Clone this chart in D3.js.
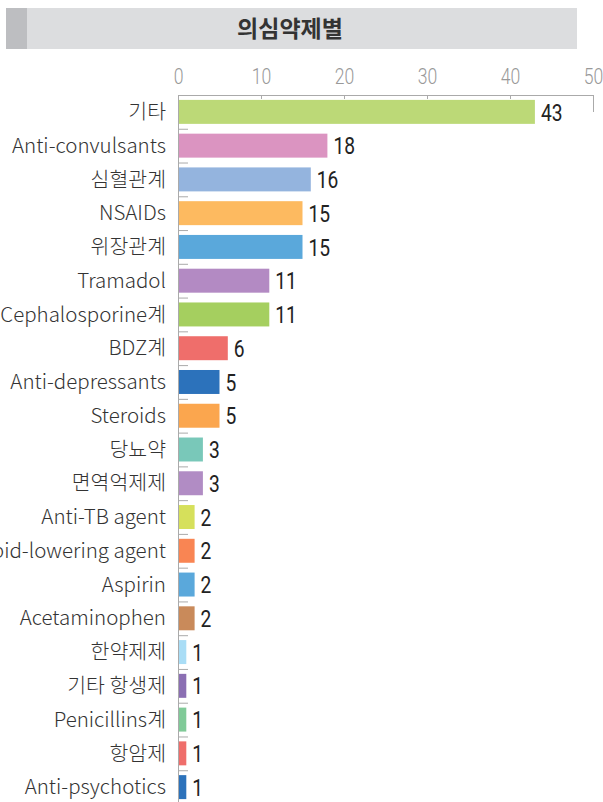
<!DOCTYPE html>
<html>
<head>
<meta charset="utf-8">
<script src="https://cdn.jsdelivr.net/npm/d3@7"></script>
<style>
  body { margin: 0; background: #fff; }
  svg { display: block; }
  .cat { font-family: "Noto Sans CJK KR", "Noto Sans", sans-serif; font-size: 20.5px; font-weight: 300; fill: #333; }
  .val { font-family: Roboto, "Noto Sans", sans-serif; font-size: 24px; font-weight: 400; fill: #222; }
  .tick text { font-family: Roboto, "Noto Sans", sans-serif; font-size: 22px; font-weight: 300; fill: #999; }
</style>
</head>
<body>
<div id="chart"></div>
<script>
// Drug categories and counts, top to bottom
const categories = [
  "기타", "Anti-convulsants", "심혈관계", "NSAIDs", "위장관계", "Tramadol",
  "Cephalosporine계", "BDZ계", "Anti-depressants", "Steroids", "당뇨약",
  "면역억제제", "Anti-TB agent", "Lipid-lowering agent", "Aspirin",
  "Acetaminophen", "한약제제", "기타 항생제", "Penicillins계", "항암제",
  "Anti-psychotics"
];
const counts = [43, 18, 16, 15, 15, 11, 11, 6, 5, 5, 3, 3, 2, 2, 2, 2, 1, 1, 1, 1, 1];
const barColors = [
  "#bcd977", "#db94c1", "#94b4de", "#fdba60", "#5aa8db", "#b38ac3",
  "#a5cf5f", "#ef6e6b", "#2c72bb", "#fba64e", "#79c8b9", "#b18cc4",
  "#d6e05b", "#f98553", "#5aa8db", "#c98a5a", "#a9ddf6", "#8b6fb3",
  "#80ca98", "#ef6e6b", "#2c72bb"
];
const xTicks = [0, 10, 20, 30, 40, 50];
const title = "의심약제별";

const W = 603, H = 802;
const narrow = 0.8; // condensed look for the numbers
const svg = d3.select("#chart").append("svg").attr("width", W).attr("height", H);

// Title bar
svg.append("rect").attr("x", 6).attr("y", 8).attr("width", 571).attr("height", 41).attr("fill", "#dcdddf");
svg.append("rect").attr("x", 6).attr("y", 8).attr("width", 21).attr("height", 41).attr("fill", "#bdbec1");
svg.append("text")
  .attr("x", 290).attr("y", 29).attr("dy", "0.36em")
  .attr("text-anchor", "middle")
  .style("font-family", "'Noto Sans CJK KR', sans-serif")
  .style("font-size", "23px").style("font-weight", "bold").style("fill", "#333")
  .text(title);

// Scales
const x = d3.scaleLinear().domain([0, 50]).range([178, 593]);
const y = d3.scaleBand().domain(categories).range([95, 804]).paddingInner(0.29).paddingOuter(0.145);

// Top axis
const xAxis = svg.append("g")
  .attr("transform", "translate(0,95)")
  .call(d3.axisTop(x).tickValues(xTicks).tickSize(-4).tickPadding(11).tickSizeOuter(0));
xAxis.select(".domain").attr("stroke", "#aaa");
xAxis.selectAll(".tick line").attr("stroke", "#aaa");
xAxis.selectAll(".tick").filter(d => d === 50).select("line").attr("y2", 17);
xAxis.selectAll(".tick text")
  .attr("transform", function () {
    const ty = +d3.select(this).attr("y");
    return `translate(0,${ty}) scale(${narrow},1)`;
  })
  .attr("y", 0);

// Left axis line and small row separators
svg.append("line")
  .attr("x1", 178.5).attr("x2", 178.5).attr("y1", 95).attr("y2", H)
  .attr("stroke", "#aaa");
const step = y.step();
svg.selectAll(".sep")
  .data(categories.slice(1))
  .enter().append("line")
  .attr("class", "sep")
  .attr("x1", 178).attr("x2", 188)
  .attr("y1", d => y(d) - y.paddingInner() * step / 2 + 0.5)
  .attr("y2", d => y(d) - y.paddingInner() * step / 2 + 0.5)
  .attr("stroke", "#aaa");

// Bars
svg.selectAll(".bar")
  .data(categories)
  .enter().append("rect")
  .attr("class", "bar")
  .attr("x", x(0) + 1)
  .attr("y", d => y(d))
  .attr("width", (d, i) => x(counts[i]) - x(0) - 1)
  .attr("height", y.bandwidth())
  .attr("fill", (d, i) => barColors[i]);

// Category labels
svg.selectAll(".cat")
  .data(categories)
  .enter().append("text")
  .attr("class", "cat")
  .attr("x", 166)
  .attr("y", d => y(d) + y.bandwidth() / 2)
  .attr("dy", "0.35em")
  .attr("text-anchor", "end")
  .text(d => d);

// Value labels
svg.selectAll(".val")
  .data(categories)
  .enter().append("text")
  .attr("class", "val")
  .attr("transform", (d, i) =>
    `translate(${x(counts[i]) + 6},${y(d) + y.bandwidth() / 2}) scale(${narrow},1)`)
  .attr("dy", "0.36em")
  .text((d, i) => counts[i]);
</script>
</body>
</html>
